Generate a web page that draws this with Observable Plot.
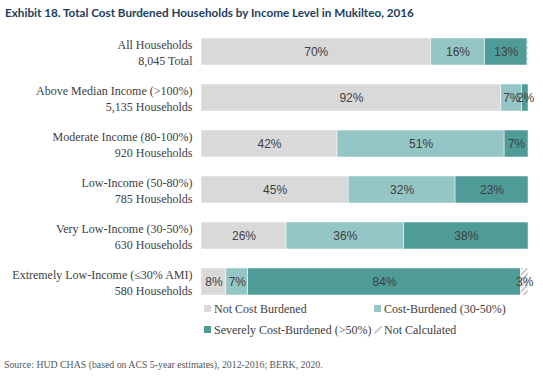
<!DOCTYPE html>
<html>
<head>
<meta charset="utf-8">
<script src="https://cdn.jsdelivr.net/npm/d3@7"></script>
<script src="https://cdn.jsdelivr.net/npm/@observablehq/plot@0.6"></script>
<style>
  html, body { margin: 0; padding: 0; background: #fff; }
  #wrap { position: relative; width: 543px; height: 379px; overflow: hidden; }
  #title { position: absolute; left: 5px; top: 5px; font-family: Lato, "Noto Sans", sans-serif; font-weight: 700; font-size: 11.7px; color: #1d3d5c; white-space: nowrap; }
  #chart { position: absolute; left: 0; top: 25px; }
  .leg { position: absolute; font-family: "Liberation Serif", serif; font-size: 12px; color: #404040; white-space: nowrap; line-height: 14px; }
  .sw { display: inline-block; width: 7px; height: 7px; margin-right: 3px; vertical-align: 1px; }
  #source { position: absolute; left: 4px; top: 359px; font-family: "Liberation Serif", serif; font-size: 9.8px; color: #555; white-space: nowrap; }
</style>
</head>
<body>
<div id="wrap">
  <div id="title"></div>
  <div id="chart"></div>
  <div id="legend"></div>
  <div id="source"></div>
</div>
<script>
const titleText = "Exhibit 18. Total Cost Burdened Households by Income Level in Mukilteo, 2016";
const sourceText = "Source: HUD CHAS (based on ACS 5-year estimates), 2012-2016; BERK, 2020.";

const categories = [
  "All Households",
  "Above Median Income (>100%)",
  "Moderate Income (80-100%)",
  "Low-Income (50-80%)",
  "Very Low-Income (30-50%)",
  "Extremely Low-Income (≤30% AMI)"
];
const subLabels = ["8,045 Total", "5,135 Households", "920 Households", "785 Households", "630 Households", "580 Households"];

const types = ["Not Cost Burdened", "Cost-Burdened (30-50%)", "Severely Cost-Burdened (>50%)", "Not Calculated"];
const typeColors = ["#d9d9d9", "#93c6c5", "#4f9b97", "url(#hatch)"];

// Values (percent)
const notBurdened = [70.2, 91.7, 41.6, 45.0, 26.0, 7.6];
const costBurdened = [16.5, 6.4, 51.1, 32.7, 36.0, 6.7];
const severe = [13.0, 1.9, 7.3, 22.3, 38.0, 83.4];
const notCalculated = [0.4, 0, 0, 0, 0, 2.3];

// Labels as printed in the chart
const notBurdenedLabels = ["70%", "92%", "42%", "45%", "26%", "8%"];
const costBurdenedLabels = ["16%", "7%", "51%", "32%", "36%", "7%"];
const severeLabels = ["13%", "2%", "7%", "23%", "38%", "84%"];
const notCalculatedLabels = ["", "", "", "", "", "3%"];

const series = [notBurdened, costBurdened, severe, notCalculated];
const seriesLabels = [notBurdenedLabels, costBurdenedLabels, severeLabels, notCalculatedLabels];

const data = [];
categories.forEach((c, i) => {
  types.forEach((t, j) => {
    data.push({cat: c, type: t, value: series[j][i], label: seriesLabels[j][i]});
  });
});
const rows = categories.map((c, i) => ({cat: c, text: c + "\n" + subLabels[i]}));

const plot = Plot.plot({
  width: 543,
  height: 280,
  marginLeft: 201,
  marginRight: 15,
  marginTop: 13,
  marginBottom: 10,
  x: {domain: [0, 100], axis: null},
  y: {domain: categories, axis: null, padding: 0.42, paddingOuter: 0},
  color: {domain: types, range: typeColors},
  marks: [
    Plot.barX(data, Plot.stackX({x: "value", y: "cat", fill: "type", order: types, stroke: "white", strokeWidth: 0.5})),
    Plot.text(data, Plot.stackX({x: "value", y: "cat", z: "type", order: types, text: "label",
      fill: "#404040", fontSize: 12, fontFamily: "'Liberation Sans', Arial, sans-serif"})),
    Plot.ruleX(rows, {x: 0, y: "cat", dx: -6.5, stroke: "#333", strokeWidth: 1, insetTop: -4, insetBottom: -4}),
    Plot.text(rows, {x: 0, y: "cat", text: "text", dx: -9, textAnchor: "end", lineHeight: 1.33,
      fill: "#404040", fontSize: 12, fontFamily: "'Liberation Serif', serif"})
  ]
});

// hatch pattern for "Not Calculated"
const ns = "http://www.w3.org/2000/svg";
const defs = document.createElementNS(ns, "defs");
defs.innerHTML = '<pattern id="hatch" width="4" height="4" patternUnits="userSpaceOnUse" patternTransform="rotate(45)">' +
  '<rect width="4" height="4" fill="white"/><line x1="1" y1="0" x2="1" y2="4" stroke="#bbbbbb" stroke-width="1.6"/></pattern>';
plot.insertBefore(defs, plot.firstChild);

document.getElementById("chart").appendChild(plot);
document.getElementById("title").textContent = titleText;
document.getElementById("source").textContent = sourceText;

// legend
const legendPos = [
  {left: 204, top: 302},
  {left: 374, top: 302},
  {left: 204, top: 323},
  {left: 374, top: 323}
];
const legend = document.getElementById("legend");
types.forEach((t, j) => {
  const d = document.createElement("div");
  d.className = "leg";
  d.style.left = legendPos[j].left + "px";
  d.style.top = legendPos[j].top + "px";
  if (j < 3) {
    const s = document.createElement("span");
    s.className = "sw";
    s.style.background = typeColors[j];
    d.appendChild(s);
  } else {
    const s = document.createElementNS(ns, "svg");
    s.setAttribute("width", "8");
    s.setAttribute("height", "8");
    s.style.marginRight = "2px";
    s.style.verticalAlign = "0px";
    s.innerHTML = '<line x1="0.5" y1="7.5" x2="7.5" y2="0.5" stroke="#bbbbbb" stroke-width="1.5"/>';
    d.appendChild(s);
  }
  d.appendChild(document.createTextNode(t));
  legend.appendChild(d);
});
</script>
</body>
</html>
